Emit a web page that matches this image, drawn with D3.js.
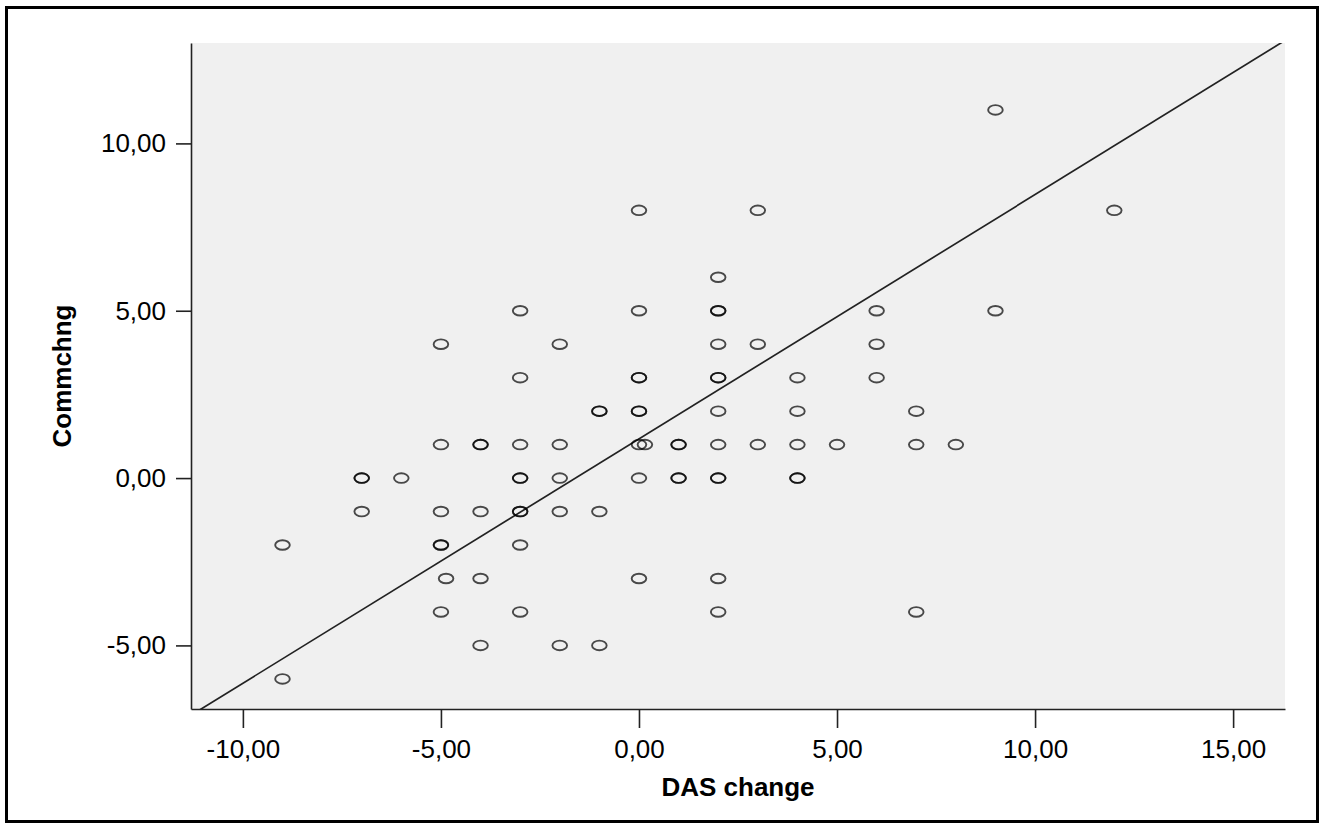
<!DOCTYPE html>
<html>
<head>
<meta charset="utf-8">
<script src="https://cdn.jsdelivr.net/npm/d3@7"></script>
<style>
  body { margin: 0; background: #fff; }
  svg { display: block; font-family: "Liberation Sans", Arial, sans-serif; }
</style>
</head>
<body>
<script>
// scatter of DAS change vs Commchng with fit line (SPSS style)
const width = 1320;
const height = 823;

// the data, one entry per case (repeated values drawn on top of each other)
const dasChange = [
  9,
  0, 3, 12,
  2,
  -3, 0, 2, 2, 6, 9,
  -5, -2, 2, 3, 6,
  -3, 0, 0, 2, 2, 4, 6,
  -1, -1, 0, 0, 2, 4, 7,
  -5, -4, -4, -3, -2, 0, 0.15, 1, 1, 2, 3, 4, 5, 7, 8,
  -7, -7, -6, -3, -3, -2, 0, 1, 1, 2, 2, 4, 4,
  -7, -5, -4, -3, -3, -2, -1,
  -9, -5, -5, -3,
  -4.87, -4, 0, 2,
  -5, -3, 2, 7,
  -4, -2, -1,
  -9
];
const commChng = [
  11,
  8, 8, 8,
  6,
  5, 5, 5, 5, 5, 5,
  4, 4, 4, 4, 4,
  3, 3, 3, 3, 3, 3, 3,
  2, 2, 2, 2, 2, 2, 2,
  1, 1, 1, 1, 1, 1, 1, 1, 1, 1, 1, 1, 1, 1, 1,
  0, 0, 0, 0, 0, 0, 0, 0, 0, 0, 0, 0, 0,
  -1, -1, -1, -1, -1, -1, -1,
  -2, -2, -2, -2,
  -3, -3, -3, -3,
  -4, -4, -4, -4,
  -5, -5, -5,
  -6
];

// tick values on both axes
const xTicks = [-10, -5, 0, 5, 10, 15];
const yTicks = [-5, 0, 5, 10];

// fit line
const fitIntercept = 1.17;
const fitSlope = 0.73;

const xTitle = 'DAS change';
const yTitle = 'Commchng';

// plot area
const plotLeft = 191, plotRight = 1285, plotTop = 43, plotBottom = 709;

const locale = d3.formatLocale({
  decimal: ',', thousands: '.', grouping: [3], currency: ['', ''], minus: '-'
});
const fmt = locale.format('.2f');

const x = d3.scaleLinear().domain([-11.31, 16.31]).range([plotLeft, plotRight]);
const y = d3.scaleLinear().domain([-6.9, 13.0]).range([plotBottom, plotTop]);

var svg = d3.select('body')
  .append('svg')
  .attr('width', width)
  .attr('height', height);

// outer frame
svg.append('rect')
  .attr('x', 6.5)
  .attr('y', 7.5)
  .attr('width', 1311)
  .attr('height', 814)
  .attr('fill', 'white')
  .attr('stroke', '#000')
  .attr('stroke-width', 3);

// plot background
svg.append('rect')
  .attr('x', plotLeft)
  .attr('y', plotTop)
  .attr('width', plotRight - plotLeft)
  .attr('height', plotBottom - plotTop)
  .attr('fill', '#f0f0f0');

svg.append('clipPath')
  .attr('id', 'plotclip')
  .append('rect')
  .attr('x', plotLeft)
  .attr('y', plotTop)
  .attr('width', plotRight - plotLeft)
  .attr('height', plotBottom - plotTop);

// fit line
var xd = x.domain();
svg.append('line')
  .attr('clip-path', 'url(#plotclip)')
  .attr('x1', x(xd[0]))
  .attr('y1', y(fitIntercept + fitSlope * xd[0]))
  .attr('x2', x(xd[1]))
  .attr('y2', y(fitIntercept + fitSlope * xd[1]))
  .attr('stroke', '#222')
  .attr('stroke-width', 1.7);

// points
svg.append('g')
  .selectAll('ellipse')
  .data(d3.range(dasChange.length))
  .join('ellipse')
  .attr('cx', i => x(dasChange[i]))
  .attr('cy', i => y(commChng[i]))
  .attr('rx', 7.3)
  .attr('ry', 4.8)
  .attr('fill', 'none')
  .attr('stroke', '#000')
  .attr('stroke-opacity', 0.7)
  .attr('stroke-width', 1.9);

// axes
var xAxis = svg.append('g')
  .attr('transform', 'translate(0,' + plotBottom + ')')
  .call(d3.axisBottom(x).tickValues(xTicks).tickFormat(fmt)
    .tickSize(19).tickSizeOuter(0).tickPadding(12));

var yAxis = svg.append('g')
  .attr('transform', 'translate(' + plotLeft + ',0)')
  .call(d3.axisLeft(y).tickValues(yTicks).tickFormat(fmt)
    .tickSize(15).tickSizeOuter(0).tickPadding(10));

[xAxis, yAxis].forEach(function (ax) {
  ax.select('.domain').attr('stroke', '#222').attr('stroke-width', 1.6);
  ax.selectAll('.tick line').attr('stroke', '#222').attr('stroke-width', 1.6);
  ax.selectAll('.tick text')
    .style('font-family', '"Liberation Sans", Arial, sans-serif')
    .style('font-size', '26px')
    .attr('fill', '#000');
});

// axis titles
svg.append('text')
  .attr('x', (plotLeft + plotRight) / 2)
  .attr('y', 796)
  .style('font-size', '26px')
  .style('font-weight', 'bold')
  .style('text-anchor', 'middle')
  .text(xTitle);

svg.append('text')
  .attr('transform', 'translate(71,' + (plotTop + plotBottom) / 2 + ') rotate(-90)')
  .style('font-size', '26px')
  .style('font-weight', 'bold')
  .style('text-anchor', 'middle')
  .text(yTitle);
</script>
</body>
</html>
